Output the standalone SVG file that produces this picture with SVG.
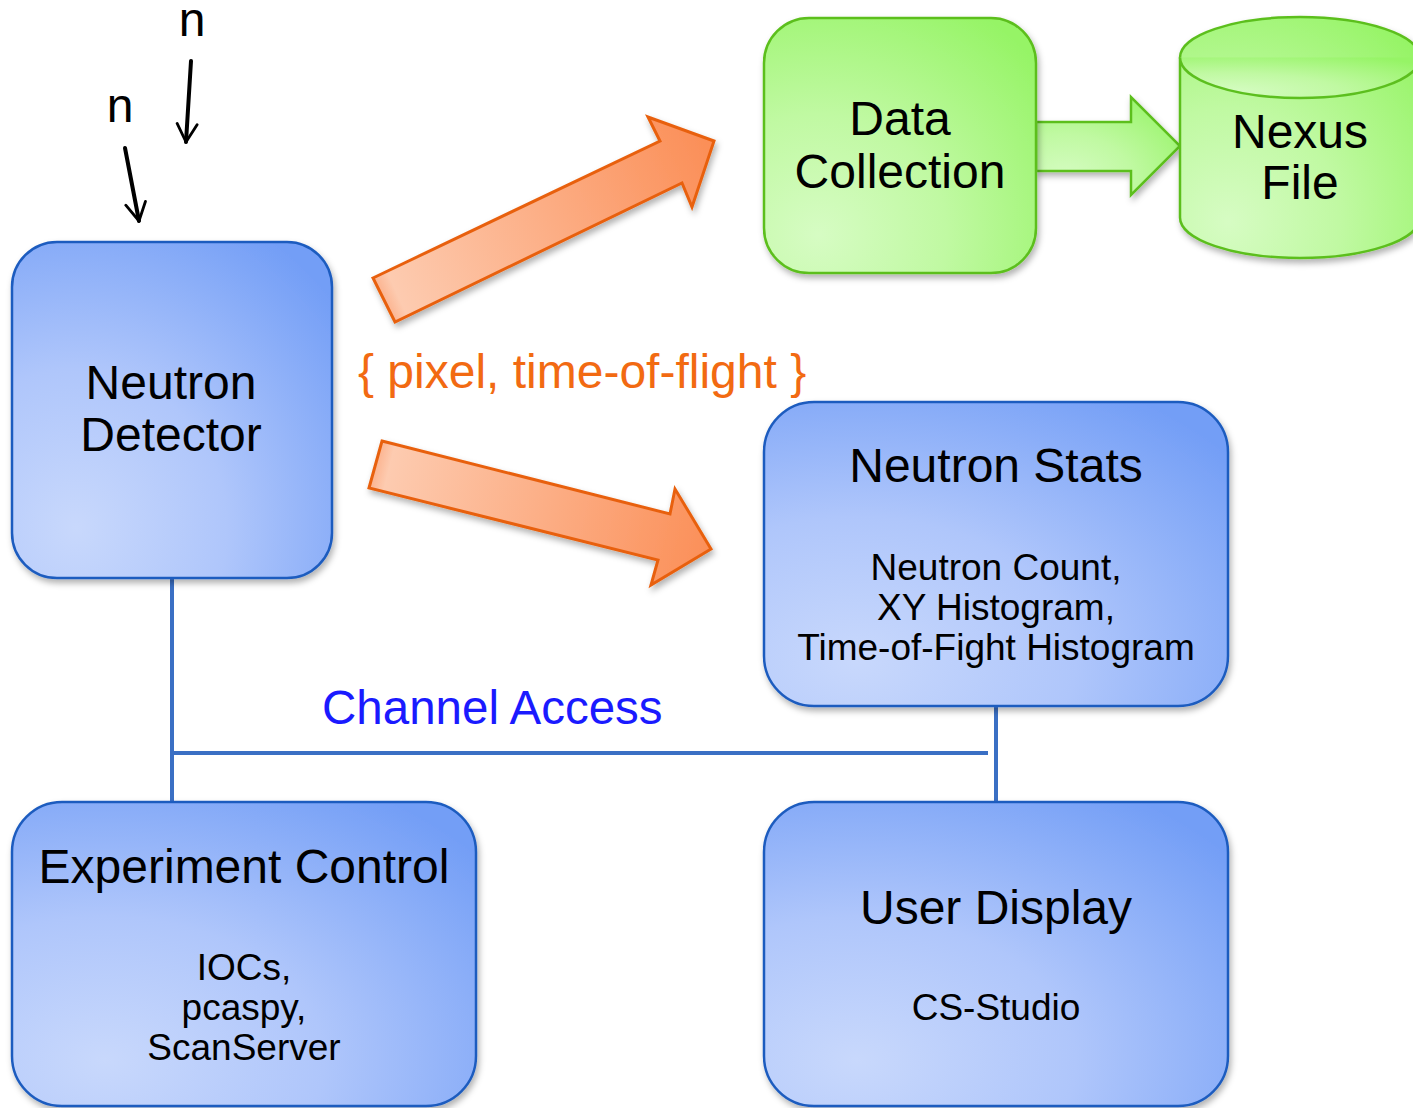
<svg xmlns="http://www.w3.org/2000/svg" width="1413" height="1108" viewBox="0 0 1413 1108">
<defs>
  <radialGradient id="gBlue" cx="0.2" cy="0.85" r="1.05" fx="0.2" fy="0.85">
    <stop offset="0" stop-color="#c8d8fc"/>
    <stop offset="0.45" stop-color="#afc6fb"/>
    <stop offset="1" stop-color="#739ef6"/>
  </radialGradient>
  <radialGradient id="gGreen" cx="0.2" cy="0.85" r="1.05" fx="0.2" fy="0.85">
    <stop offset="0" stop-color="#d6fcc3"/>
    <stop offset="0.45" stop-color="#c0f9a2"/>
    <stop offset="1" stop-color="#96f466"/>
  </radialGradient>
  <linearGradient id="gOr1" gradientUnits="userSpaceOnUse" x1="380" y1="300" x2="710" y2="150">
    <stop offset="0" stop-color="#fbae88"/>
    <stop offset="0.05" stop-color="#fdcbb0"/>
    <stop offset="1" stop-color="#fb8f58"/>
  </linearGradient>
  <linearGradient id="gOr2" gradientUnits="userSpaceOnUse" x1="372" y1="465" x2="711" y2="549">
    <stop offset="0" stop-color="#fbae88"/>
    <stop offset="0.05" stop-color="#fdcbb0"/>
    <stop offset="1" stop-color="#fb8f58"/>
  </linearGradient>
  <filter id="sh" x="-10%" y="-10%" width="125%" height="125%">
    <feDropShadow dx="2" dy="4" stdDeviation="3" flood-color="#000" flood-opacity="0.3"/>
  </filter>
  <marker id="ah" viewBox="0 0 12 12" refX="10" refY="6" markerWidth="6" markerHeight="6" orient="auto" markerUnits="strokeWidth">
    <path d="M1,1 L10,6 L1,11" fill="none" stroke="#000" stroke-width="1.4" stroke-linecap="round" stroke-linejoin="round"/>
  </marker>
</defs>
<style>
  .blue{fill:url(#gBlue);stroke:#1e5cbf;stroke-width:2.5;}
  .green{fill:url(#gGreen);stroke:#5cbf1e;stroke-width:2.5;}
  .t{font-family:"Liberation Sans",Arial,sans-serif;fill:#000;text-anchor:middle;}
  .big{font-size:48px;}
  .small{font-size:37px;}
  .conn{stroke:#3a6fc4;stroke-width:4;fill:none;}
  .orange{stroke:#e8600f;stroke-width:3;stroke-linejoin:miter;}
  .nline{stroke:#000;stroke-width:4;stroke-linecap:round;}
</style>
<rect width="1413" height="1108" fill="#ffffff"/>

<g id="connectors">
  <line class="conn" x1="172" y1="578" x2="172" y2="802"/>
  <line class="conn" x1="172" y1="753" x2="988" y2="753"/>
  <line class="conn" x1="996" y1="706" x2="996" y2="802"/>
  <line class="nline" x1="191" y1="61" x2="186" y2="142" marker-end="url(#ah)"/>
  <line class="nline" x1="125" y1="148" x2="139" y2="221" marker-end="url(#ah)"/>
  <path id="arrowDataCollection" class="orange" fill="url(#gOr1)" filter="url(#sh)" d="M373,278 L660,141 L648,117 L714,141 L692,207 L682,183 L395,322 Z"/>
  <path id="arrowNeutronStats" class="orange" fill="url(#gOr2)" filter="url(#sh)" d="M382,441 L670,514 L675,489 L711,549 L651,585 L658,560 L369,488 Z"/>
  <path id="arrowNexus" class="green" filter="url(#sh)" d="M1036,122 L1131,122 L1131,97 L1180,146 L1131,195 L1131,171 L1036,171 Z"/>
</g>

<g id="labels">
  <text class="t big" x="192" y="36">n</text>
  <text class="t big" x="120" y="122">n</text>
  <text x="358" y="388" font-family="Liberation Sans, Arial, sans-serif" font-size="48" fill="#f26a12">{ pixel, time-of-flight }</text>
  <text x="322" y="724" font-family="Liberation Sans, Arial, sans-serif" font-size="47.5" fill="#1a1aff">Channel Access</text>
</g>

<g id="neutronDetector">
  <rect class="blue" x="12" y="242" width="320" height="336" rx="45" filter="url(#sh)"/>
  <text class="t big" x="171" y="399">Neutron</text>
  <text class="t big" x="171" y="451">Detector</text>
</g>

<g id="dataCollection">
  <rect class="green" x="764" y="18" width="272" height="255" rx="45" filter="url(#sh)"/>
  <text class="t big" x="900" y="135">Data</text>
  <text class="t big" x="900" y="188">Collection</text>
</g>

<g id="nexusFile">
  <path class="green" filter="url(#sh)" d="M1180,57.5 L1180,217.5 A120,40.5 0 0 0 1420,217.5 L1420,57.5 A120,40.5 0 0 0 1180,57.5 Z"/>
  <path class="green" d="M1180,57.5 A120,40.5 0 0 0 1420,57.5" fill="none"/>
  <text class="t big" x="1300" y="148">Nexus</text>
  <text class="t big" x="1300" y="199">File</text>
</g>

<g id="neutronStats">
  <rect class="blue" x="764" y="402" width="464" height="304" rx="50" filter="url(#sh)"/>
  <text class="t big" x="996" y="482">Neutron Stats</text>
  <text class="t small" x="996" y="580">Neutron Count,</text>
  <text class="t small" x="996" y="620">XY Histogram,</text>
  <text class="t small" x="996" y="660">Time-of-Fight Histogram</text>
</g>

<g id="experimentControl">
  <rect class="blue" x="12" y="802" width="464" height="304" rx="50" filter="url(#sh)"/>
  <text class="t big" x="244" y="883">Experiment Control</text>
  <text class="t small" x="244" y="980">IOCs,</text>
  <text class="t small" x="244" y="1020">pcaspy,</text>
  <text class="t small" x="244" y="1060">ScanServer</text>
</g>

<g id="userDisplay">
  <rect class="blue" x="764" y="802" width="464" height="304" rx="50" filter="url(#sh)"/>
  <text class="t big" x="996" y="924">User Display</text>
  <text class="t small" x="996" y="1020">CS-Studio</text>
</g>
</svg>
